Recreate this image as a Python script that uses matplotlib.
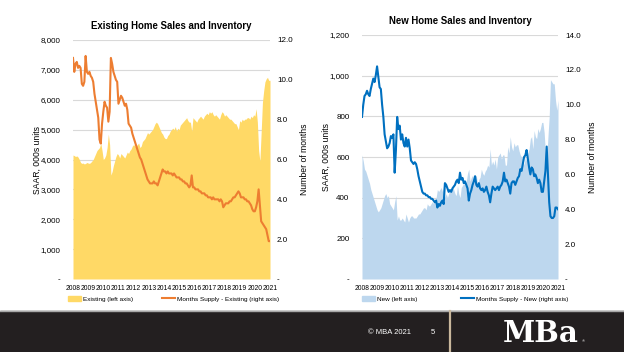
import matplotlib
matplotlib.use("Agg")
import matplotlib.pyplot as plt
from matplotlib.patches import Patch
from matplotlib.lines import Line2D
from matplotlib.ticker import FuncFormatter
import numpy as np

plt.rcParams['font.family'] = ['Liberation Sans', 'DejaVu Sans']

years = [str(y) for y in range(2008, 2022)]

# existing home sales, SAAR 000s, monthly Jan 2008 - Jan 2021
existing_sales = [
    4150, 4130, 4100, 4120, 4080, 4000, 3900, 3870, 3880, 3850, 3870, 3900,
    3880, 3870, 3900, 3950, 4000, 4100, 4200, 4300, 4350, 4400, 4550, 4300,
    4000, 4050, 4150, 4400, 4850, 4500, 3480, 3600, 3800, 3950, 4100, 4200,
    4150, 4050, 4200, 4150, 4100, 4050, 4150, 4250, 4200, 4300, 4350, 4450,
    4500, 4450, 4450, 4500, 4550, 4400, 4450, 4600, 4650, 4700, 4800, 4900,
    4850, 4900, 4950, 5000, 5100, 5200, 5250, 5200, 5100, 5000, 4900, 4850,
    4750, 4700, 4700, 4800, 4850, 4950, 5000, 5050, 5000, 5100, 4950, 5050,
    5000, 5150, 5200, 5250, 5300, 5350, 5400, 5300, 5250, 5250, 4950, 5400,
    5350, 5300, 5250, 5350, 5400, 5450, 5400, 5350, 5450, 5500, 5550, 5500,
    5600, 5550, 5600, 5500, 5450, 5500, 5450, 5400, 5350, 5500, 5600, 5550,
    5450, 5500, 5450, 5400, 5350, 5350, 5300, 5250, 5200, 5200, 5100, 5000,
    5300, 5250, 5350, 5300, 5350, 5350, 5400, 5400, 5350, 5450, 5400, 5500,
    5450, 5700, 5250, 4300, 3950, 4900, 5900, 6300, 6600, 6700, 6750, 6650,
    6650,
]

# months supply of existing homes
existing_supply = [
    11.1, 10.4, 10.8, 10.9, 10.6, 10.7, 10.6, 9.8, 9.7, 9.9, 11.2, 10.4,
    10.3, 10.4, 10.2, 10.1, 9.9, 9.3, 8.9, 8.5, 8.1, 7.0, 6.8, 7.8,
    8.4, 8.9, 8.7, 8.6, 7.9, 8.4, 11.1, 10.8, 10.4, 10.2, 10.0, 9.9,
    8.8, 9.0, 9.2, 9.1, 8.9, 8.7, 8.8, 8.5, 7.8, 7.7, 7.6, 7.3,
    7.1, 6.9, 6.7, 6.5, 6.3, 6.1, 6.0, 5.8, 5.6, 5.4, 5.2, 5.0,
    4.9, 4.8, 4.8, 4.8, 4.9, 4.8, 4.8, 4.7, 4.9, 5.1, 5.3, 5.5,
    5.4, 5.4, 5.3, 5.4, 5.3, 5.3, 5.3, 5.2, 5.3, 5.2, 5.1, 5.1,
    5.1, 5.0, 5.0, 4.9, 4.9, 4.8, 4.8, 4.7, 4.6, 4.7, 5.2, 4.6,
    4.6, 4.5, 4.5, 4.5, 4.4, 4.4, 4.3, 4.3, 4.3, 4.2, 4.2, 4.1,
    4.1, 4.1, 4.0, 4.1, 4.0, 4.0, 4.0, 4.0, 3.9, 4.0, 3.9, 3.6,
    3.7, 3.8, 3.8, 3.8, 3.9, 3.9, 4.0, 4.1, 4.1, 4.2, 4.3, 4.4,
    4.3, 4.1, 4.1, 4.1, 4.0, 4.0, 3.9, 3.9, 3.8, 3.7, 3.5, 3.4,
    3.4, 3.6, 3.9, 4.5, 3.7, 2.9, 2.8, 2.7, 2.6, 2.5, 2.2, 1.9,
    1.9,
]

# new home sales, SAAR 000s
new_sales = [
    610, 580, 540, 530, 510, 490, 470, 440, 420, 400, 380, 360,
    340, 330, 340, 350, 370, 390, 410, 420, 400, 410, 370, 360,
    350, 340, 380, 410, 290, 310, 290, 290, 300, 290, 280, 320,
    300, 280, 300, 310, 310, 300, 300, 300, 310, 320, 320, 330,
    340, 350, 350, 340, 370, 360, 360, 370, 380, 370, 390, 400,
    440, 430, 440, 450, 430, 460, 400, 420, 400, 420, 440, 430,
    450, 440, 420, 410, 460, 420, 400, 450, 460, 470, 460, 480,
    520, 540, 480, 500, 510, 480, 500, 510, 460, 490, 500, 540,
    520, 510, 530, 540, 560, 550, 640, 560, 580, 560, 590, 540,
    600, 610, 620, 590, 610, 610, 560, 560, 650, 620, 700, 650,
    630, 670, 650, 660, 660, 630, 610, 600, 590, 560, 600, 580,
    620, 640, 690, 700, 640, 730, 700, 690, 740, 720, 740, 770,
    770, 720, 620, 585, 700, 800, 980, 970, 960, 960, 880, 830,
    880,
]

# months supply of new homes
new_supply = [
    9.3, 10.0, 10.5, 10.6, 10.8, 10.6, 10.5, 10.9, 11.2, 11.5, 11.3, 11.7,
    12.2, 11.6, 11.0, 10.9, 10.0, 9.3, 8.3, 7.9, 7.5, 7.6, 7.8, 8.2,
    8.1, 8.3, 6.1, 7.4, 9.3, 8.6, 8.8, 8.0, 8.3, 7.8, 7.6, 8.1,
    7.6, 8.0, 7.5, 6.8, 6.7, 6.6, 6.7, 6.6, 6.3, 5.9, 5.6, 5.3,
    5.0, 4.9, 4.9, 4.8, 4.8, 4.7, 4.7, 4.6, 4.6, 4.5, 4.4, 4.5,
    4.1, 4.3, 4.2, 4.4, 4.5, 4.3, 5.5, 5.4, 5.2, 5.0, 5.1, 5.0,
    5.2, 5.3, 5.4, 5.6, 5.7, 5.5, 6.1, 5.7, 5.8, 5.5, 5.6, 5.4,
    5.2, 4.5, 4.9, 5.1, 5.4, 5.6, 5.9, 5.4, 5.3, 5.5, 5.2, 5.1,
    5.2, 5.0, 5.1, 5.3, 5.0, 4.8, 4.4, 4.9, 5.3, 5.2, 5.1, 5.2,
    5.3, 5.1, 5.3, 5.4, 5.6, 6.1, 5.6, 5.7, 5.5, 5.3, 4.9, 5.5,
    5.6, 5.6, 5.4, 5.6, 5.8, 5.9, 6.3, 6.2, 6.6, 7.0, 7.1, 7.4,
    6.9, 6.4, 6.0, 6.4, 6.3, 5.9, 6.0, 5.8, 5.5, 5.7, 5.5, 5.0,
    5.0, 5.6, 6.2, 7.6, 6.0, 4.4, 3.6, 3.5, 3.5, 3.6, 4.1, 4.1,
    4.0,
]

GRID = '#d9d9d9'
TXT = '#000000'


def left_fmt(v, pos):
    return '-' if v == 0 else f'{int(v):,}'


def right_fmt(v, pos):
    return '-' if v == 0 else f'{v:.1f}'


def make_panel(rect, title, sales, supply, fill_color, line_color,
               ymax, ystep, rmax, rstep, sales_label, supply_label,
               leg_x, leg_y, colspace):
    x = np.arange(len(sales))
    ax = fig.add_axes(rect)
    ax.set_axisbelow(True)
    ax.fill_between(x, sales, 0, color=fill_color, linewidth=0, zorder=2)
    ax.set_xlim(0, len(sales) - 1)
    ax.set_ylim(0, ymax)
    ax.set_yticks(np.arange(0, ymax + 1, ystep))
    ax.yaxis.set_major_formatter(FuncFormatter(left_fmt))
    ax.set_xticks(np.arange(0, len(sales), 12))
    ax.set_xticklabels(years)
    ax.grid(axis='y', color=GRID, linewidth=0.8)
    ax.tick_params(axis='both', length=0, labelsize=5.8, colors=TXT)
    ax.tick_params(axis='x', labelsize=4.9, pad=4)
    ax.tick_params(axis='y', pad=9)
    ax.set_ylabel('SAAR, 000s units', fontsize=6.2, labelpad=-1)
    for s in ax.spines.values():
        s.set_visible(False)

    ax2 = ax.twinx()
    ax2.plot(x, supply, color=line_color, linewidth=1.5)
    ax2.set_ylim(0, rmax)
    ax2.set_yticks(np.arange(0, rmax + 0.01, rstep))
    ax2.yaxis.set_major_formatter(FuncFormatter(right_fmt))
    ax2.tick_params(axis='y', length=0, labelsize=5.8, pad=5)
    ax2.set_ylabel('Number of months', fontsize=6.2, labelpad=5)
    for s in ax2.spines.values():
        s.set_visible(False)

    ax.set_title(title, fontsize=6.9, fontweight='bold', pad=8)

    handles = [Patch(color=fill_color, label=sales_label),
               Line2D([0], [0], color=line_color, lw=1.5, label=supply_label)]
    ax.legend(handles=handles, loc='upper left', ncol=2, frameon=False,
              fontsize=4.6, bbox_to_anchor=(leg_x, leg_y), borderaxespad=0,
              handlelength=2.0, handleheight=0.9, columnspacing=colspace,
              handletextpad=0.3)
    return ax


fig = plt.figure(figsize=(6.24, 3.52), dpi=100)

make_panel([73 / 624, 73 / 352, 197 / 624, 239 / 352],
           'Existing Home Sales and Inventory', existing_sales, existing_supply,
           '#ffd966', '#ed7d31', 8000, 1000, 12, 2,
           'Existing (left axis)', 'Months Supply - Existing (right axis)',
           -0.038, -0.06, 4.6)

make_panel([362 / 624, 73 / 352, 196 / 624, 244 / 352],
           'New Home Sales and Inventory', new_sales, new_supply,
           '#bdd7ee', '#0070c0', 1200, 200, 14, 2,
           'New (left axis)', 'Months Supply - New (right axis)',
           -0.013, -0.059, 6.9)

# footer band
foot = fig.add_axes([0, 0, 1, 43 / 352])
foot.set_xlim(0, 624)
foot.set_ylim(0, 43)
foot.axis('off')
foot.axhspan(0, 41, color='#231f20')
foot.axhline(41.5, color='#a6a6a6', linewidth=1)
foot.axvline(450, ymax=41 / 43, color='#c9b79c', linewidth=1.6)
foot.text(390, 20, '\u00a9 MBA 2021', color='white', fontsize=5.5,
          ha='center', va='center')
foot.text(433, 20, '5', color='white', fontsize=5.5, ha='center', va='center')
foot.text(541, 19, 'MBa', color='white', fontsize=21, fontweight='bold',
          family='DejaVu Serif', ha='center', va='center')
foot.text(582, 11, '\u00ae', color='white', fontsize=3, ha='left', va='center')

fig.savefig('out.png', dpi=100)
